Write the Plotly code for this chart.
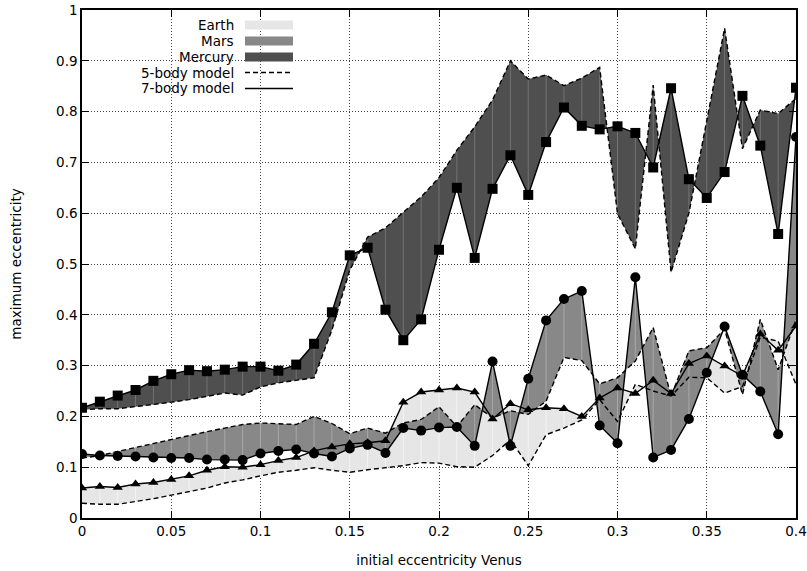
import plotly.graph_objects as go

# ---------------- data ----------------
ecc_venus = [0.00, 0.01, 0.02, 0.03, 0.04, 0.05, 0.06, 0.07, 0.08, 0.09,
             0.10, 0.11, 0.12, 0.13, 0.14, 0.15, 0.16, 0.17, 0.18, 0.19,
             0.20, 0.21, 0.22, 0.23, 0.24, 0.25, 0.26, 0.27, 0.28, 0.29,
             0.30, 0.31, 0.32, 0.33, 0.34, 0.35, 0.36, 0.37, 0.38, 0.39, 0.40]

mercury_7body = [0.217, 0.229, 0.241, 0.252, 0.270, 0.283, 0.291, 0.289, 0.292, 0.298,
                 0.298, 0.290, 0.302, 0.343, 0.405, 0.517, 0.532, 0.410, 0.350, 0.391,
                 0.528, 0.650, 0.512, 0.648, 0.714, 0.636, 0.740, 0.808, 0.772, 0.765,
                 0.771, 0.758, 0.690, 0.846, 0.667, 0.630, 0.681, 0.831, 0.733, 0.559, 0.847]
mercury_5body = [0.213, 0.215, 0.215, 0.219, 0.223, 0.228, 0.233, 0.240, 0.246, 0.242,
                 0.258, 0.266, 0.271, 0.276, 0.370, 0.488, 0.553, 0.571, 0.602, 0.632,
                 0.670, 0.724, 0.770, 0.823, 0.900, 0.864, 0.872, 0.851, 0.866, 0.887,
                 0.599, 0.530, 0.852, 0.484, 0.600, 0.781, 0.964, 0.727, 0.803, 0.796, 0.826]

mars_7body = [0.126, 0.123, 0.122, 0.121, 0.119, 0.118, 0.118, 0.115, 0.115, 0.114,
              0.127, 0.132, 0.135, 0.127, 0.121, 0.137, 0.144, 0.128, 0.177, 0.172,
              0.178, 0.179, 0.142, 0.308, 0.142, 0.274, 0.389, 0.431, 0.447, 0.182,
              0.147, 0.474, 0.119, 0.134, 0.195, 0.286, 0.377, 0.282, 0.249, 0.165, 0.750]
mars_5body = [0.118, 0.123, 0.131, 0.139, 0.146, 0.154, 0.162, 0.170, 0.177, 0.184,
              0.187, 0.185, 0.184, 0.200, 0.186, 0.166, 0.177, 0.167, 0.187, 0.194,
              0.219, 0.180, 0.223, 0.197, 0.211, 0.204, 0.230, 0.316, 0.310, 0.264,
              0.276, 0.309, 0.375, 0.240, 0.329, 0.335, 0.372, 0.243, 0.391, 0.292, 0.390]

earth_7body = [0.059, 0.062, 0.060, 0.067, 0.070, 0.076, 0.083, 0.094, 0.101, 0.100,
               0.105, 0.113, 0.119, 0.132, 0.140, 0.146, 0.148, 0.152, 0.228, 0.248,
               0.252, 0.256, 0.248, 0.195, 0.225, 0.213, 0.217, 0.215, 0.200, 0.236,
               0.256, 0.245, 0.271, 0.245, 0.304, 0.319, 0.299, 0.280, 0.362, 0.330, 0.378]
earth_5body = [0.029, 0.027, 0.027, 0.032, 0.038, 0.045, 0.052, 0.059, 0.069, 0.075,
               0.083, 0.090, 0.094, 0.099, 0.094, 0.090, 0.095, 0.099, 0.103, 0.109,
               0.108, 0.101, 0.100, 0.123, 0.154, 0.103, 0.164, 0.177, 0.193, 0.233,
               0.190, 0.263, 0.250, 0.240, 0.277, 0.276, 0.246, 0.259, 0.356, 0.348, 0.263]

x_ticks = [0, 0.05, 0.1, 0.15, 0.2, 0.25, 0.3, 0.35, 0.4]
x_tick_labels = ["0", "0.05", "0.1", "0.15", "0.2", "0.25", "0.3", "0.35", "0.4"]
y_ticks = [0, 0.1, 0.2, 0.3, 0.4, 0.5, 0.6, 0.7, 0.8, 0.9, 1.0]
y_tick_labels = ["0", "0.1", "0.2", "0.3", "0.4", "0.5", "0.6", "0.7", "0.8", "0.9", "1"]

legend_labels = ["Earth", "Mars", "Mercury", "5-body model", "7-body model"]

# ---------------- style ----------------
FONT = "DejaVu Sans"
FS = 13.5
planets = [
    # name, 5-body, 7-body, fill, hatch, marker symbol, marker size
    ("Earth", earth_5body, earth_7body, "#e6e6e6", "#f4f4f4", "triangle-up", 9),
    ("Mars", mars_5body, mars_7body, "#888888", "#a8a8a8", "circle", 10),
    ("Mercury", mercury_5body, mercury_7body, "#4f4f4f", "#737373", "square", 10),
]
DASH = "5px,3px"
LW = 1.4

fig = go.Figure()

# fills and hatch lines
for name, y5, y7, fc, hc, sym, ms in planets:
    fig.add_trace(go.Scatter(x=ecc_venus, y=y5, mode="lines",
                             line=dict(width=0, color=fc), showlegend=False,
                             hoverinfo="skip"))
    fig.add_trace(go.Scatter(x=ecc_venus, y=y7, mode="lines", fill="tonexty",
                             fillcolor=fc, line=dict(width=0, color=fc),
                             showlegend=False, hoverinfo="skip"))
    hx, hy = [], []
    for i in range(1, len(ecc_venus) - 1):
        hx += [ecc_venus[i], ecc_venus[i], None]
        hy += [y5[i], y7[i], None]
    fig.add_trace(go.Scatter(x=hx, y=hy, mode="lines",
                             line=dict(width=1, color=hc), showlegend=False,
                             hoverinfo="skip"))

# lines and markers
for name, y5, y7, fc, hc, sym, ms in planets:
    fig.add_trace(go.Scatter(x=ecc_venus, y=y5, mode="lines",
                             line=dict(width=LW, color="black", dash=DASH),
                             showlegend=False))
    fig.add_trace(go.Scatter(x=ecc_venus, y=y7, mode="lines+markers",
                             line=dict(width=LW, color="black"),
                             marker=dict(symbol=sym, size=ms, color="black",
                                         line=dict(width=0)),
                             showlegend=False))

# ---------------- custom legend (gnuplot style: text right, sample left) ----------------
L, R, T, B = 82, 11, 10, 53
W, H = 807, 571
PW, PH = W - L - R, H - T - B


def px(xp):
    return (xp - L) / PW


def py(yp):
    return (H - B - yp) / PH


rows = [25, 41, 57, 72.5, 88.5]
text_right = 236
sw_l, sw_r = 245, 293
swatch_fill = ["#e6e6e6", "#888888", "#4f4f4f"]
for i, lab in enumerate(legend_labels):
    fig.add_annotation(x=px(text_right), y=py(rows[i]), xref="paper", yref="paper",
                       text=lab, showarrow=False, xanchor="right", yanchor="middle",
                       font=dict(family=FONT, size=FS, color="black"))
    if i < 3:
        fig.add_shape(type="rect", xref="paper", yref="paper",
                      x0=px(sw_l), x1=px(sw_r), y0=py(rows[i] - 4.5), y1=py(rows[i] + 4.5),
                      fillcolor=swatch_fill[i], line=dict(width=0), layer="above")
    else:
        fig.add_shape(type="line", xref="paper", yref="paper",
                      x0=px(sw_l), x1=px(sw_r), y0=py(rows[i]), y1=py(rows[i]),
                      line=dict(color="black", width=LW,
                                dash=DASH if i == 3 else "solid"),
                      layer="above")

axis_common = dict(
    showline=True, linecolor="black", linewidth=1.5, mirror="ticks",
    ticks="inside", ticklen=7, tickcolor="black", tickwidth=1,
    showgrid=True, gridcolor="#444444", griddash="1px,2px", gridwidth=1,
    zeroline=False, automargin=False,
    tickfont=dict(family=FONT, size=FS, color="black"),
)

fig.update_xaxes(range=[0, 0.4], tickvals=x_ticks, ticktext=x_tick_labels,
                 title=dict(text="initial eccentricity Venus",
                            font=dict(family=FONT, size=FS, color="black"),
                            standoff=18),
                 **axis_common)
fig.update_yaxes(range=[0, 1], tickvals=y_ticks, ticktext=y_tick_labels,
                 title=dict(text="maximum eccentricity",
                            font=dict(family=FONT, size=FS, color="black"),
                            standoff=31),
                 **axis_common)

fig.update_layout(
    width=W, height=H,
    margin=dict(l=L, r=R, t=T, b=B, pad=0),
    plot_bgcolor="white", paper_bgcolor="white",
    showlegend=False,
    font=dict(family=FONT, size=FS, color="black"),
)

fig.write_html("out.html")
